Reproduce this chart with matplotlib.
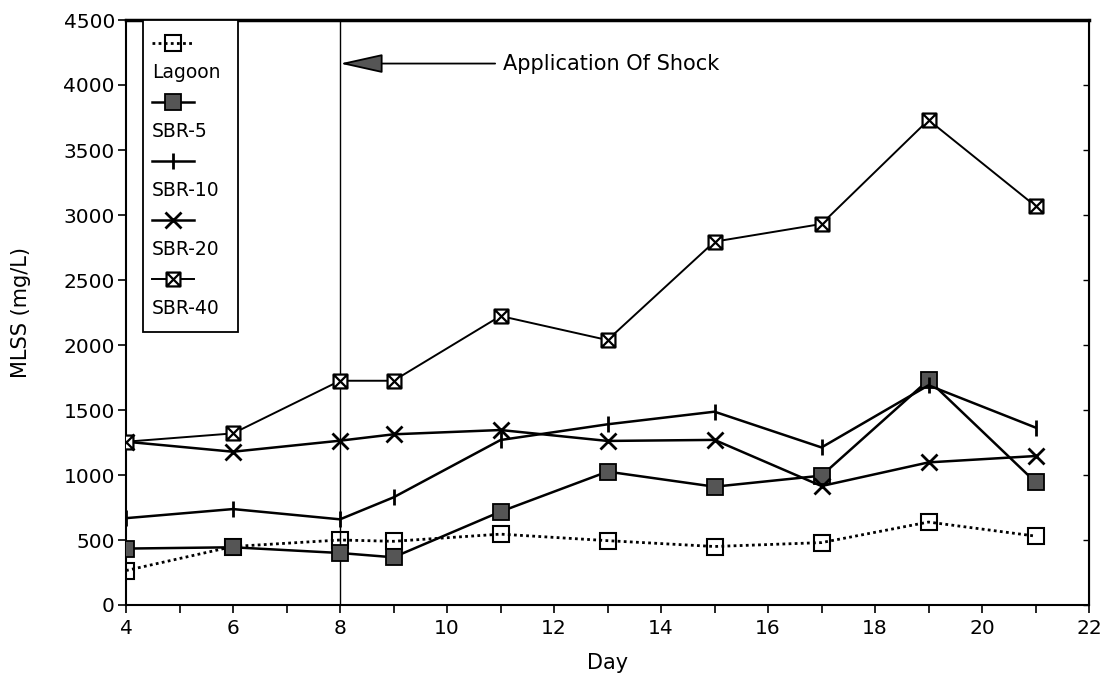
import matplotlib
matplotlib.use("Agg")
import matplotlib.pyplot as plt
from matplotlib.lines import Line2D
from matplotlib.patches import Rectangle
from matplotlib.path import Path

plt.rcParams['font.family'] = ['DejaVu Sans']

# MLSS readings (mg/L) per sampling day
days = [4, 6, 8, 9, 11, 13, 15, 17, 19, 21]
lagoon = [265, 450, 500, 490, 545, 495, 450, 480, 638, 530]
sbr5 = [434, 444, 400, 367, 718, 1026, 910, 995, 1731, 945]
sbr10 = [668, 738, 659, 828, 1269, 1390, 1487, 1212, 1690, 1365]
sbr20 = [1256, 1179, 1264, 1313, 1346, 1262, 1270, 915, 1097, 1146]
sbr40 = [1256, 1320, 1725, 1725, 2223, 2038, 2795, 2931, 3731, 3069]
shock_day = 8

# square with both diagonals drawn in it
V = [(-1, -1), (1, -1), (1, 1), (-1, 1), (-1, -1),
     (-1, -1), (1, 1), (-1, 1), (1, -1)]
C = [Path.MOVETO, Path.LINETO, Path.LINETO, Path.LINETO, Path.CLOSEPOLY,
     Path.MOVETO, Path.LINETO, Path.MOVETO, Path.LINETO]
boxx = Path(V, C)

styles = {
    'Lagoon': dict(ls=(0, (1, 1.2)), lw=2.0, marker='s', ms=11, mfc='none', mec='black', mew=1.5),
    'SBR-5': dict(ls='-', lw=1.8, marker='s', ms=11, mfc='#555555', mec='black', mew=1.3),
    'SBR-10': dict(ls='-', lw=1.8, marker='|', ms=11, mec='black', mew=2.0),
    'SBR-20': dict(ls='-', lw=1.8, marker='x', ms=12, mec='black', mew=2.0),
    'SBR-40': dict(ls='-', lw=1.4, marker=boxx, ms=10, mfc='white', mec='black', mew=1.6),
}
series = [('Lagoon', lagoon), ('SBR-5', sbr5), ('SBR-10', sbr10),
          ('SBR-20', sbr20), ('SBR-40', sbr40)]

fig = plt.figure(figsize=(11.06, 6.79), dpi=100)
ax = fig.add_axes([126 / 1106, 1 - 605 / 679, 963 / 1106, 585 / 679])

for name, vals in series:
    ax.plot(days, vals, color='black', **styles[name], zorder=3)

# shock marker
ax.axvline(shock_day, color='black', lw=1.0, zorder=2)
ax.annotate('', xy=(shock_day, 4165), xytext=(10.9, 4165),
            arrowprops=dict(arrowstyle='-|>,head_length=2.7,head_width=0.6',
                            mutation_scale=10, fc='#555555', ec='black', lw=1.3,
                            shrinkA=0, shrinkB=0))
ax.text(11.05, 4165, 'Application Of Shock', fontsize=15, va='center', ha='left')

ax.set_xlim(4, 22)
ax.set_ylim(0, 4500)
ax.set_xticks(range(4, 23, 2))
ax.set_xticks(range(4, 23), minor=True)
ax.set_yticks(range(0, 4501, 500))
ax.tick_params(axis='x', which='both', direction='out', length=6, width=1.2,
               labelsize=14.5, pad=4)
ax.tick_params(axis='y', direction='out', length=6, width=1.2, labelsize=14.5, pad=2)
ax.set_xlabel('Day', fontsize=15)
ax.set_ylabel('MLSS (mg/L)', fontsize=15)
ax.xaxis.set_label_coords(0.5, -0.082)
ax.yaxis.set_label_coords(-0.099, 0.5)

for side in ['left', 'right', 'bottom']:
    ax.spines[side].set_linewidth(1.5)
ax.spines['top'].set_linewidth(2.5)

right = ax.secondary_yaxis('right')
right.set_yticks(range(0, 4501, 500))
right.tick_params(direction='in', length=4, width=1.0, labelright=False)

# legend box with labels under each sample line
ax.add_patch(Rectangle((0.0177, 0.4667), 0.0987, 0.5333, transform=ax.transAxes,
                       fc='white', ec='black', lw=1.3, zorder=5))
for i, (name, _) in enumerate(series):
    y = 0.9607 - i * 0.1009
    ax.add_line(Line2D([0.027, 0.049, 0.071], [y, y, y], transform=ax.transAxes,
                       color='black', markevery=[1], zorder=6, **styles[name]))
    ax.text(0.027, y - 0.05, name, transform=ax.transAxes, fontsize=13.5,
            va='center', ha='left', zorder=6)

fig.savefig('out.png', dpi=100)
